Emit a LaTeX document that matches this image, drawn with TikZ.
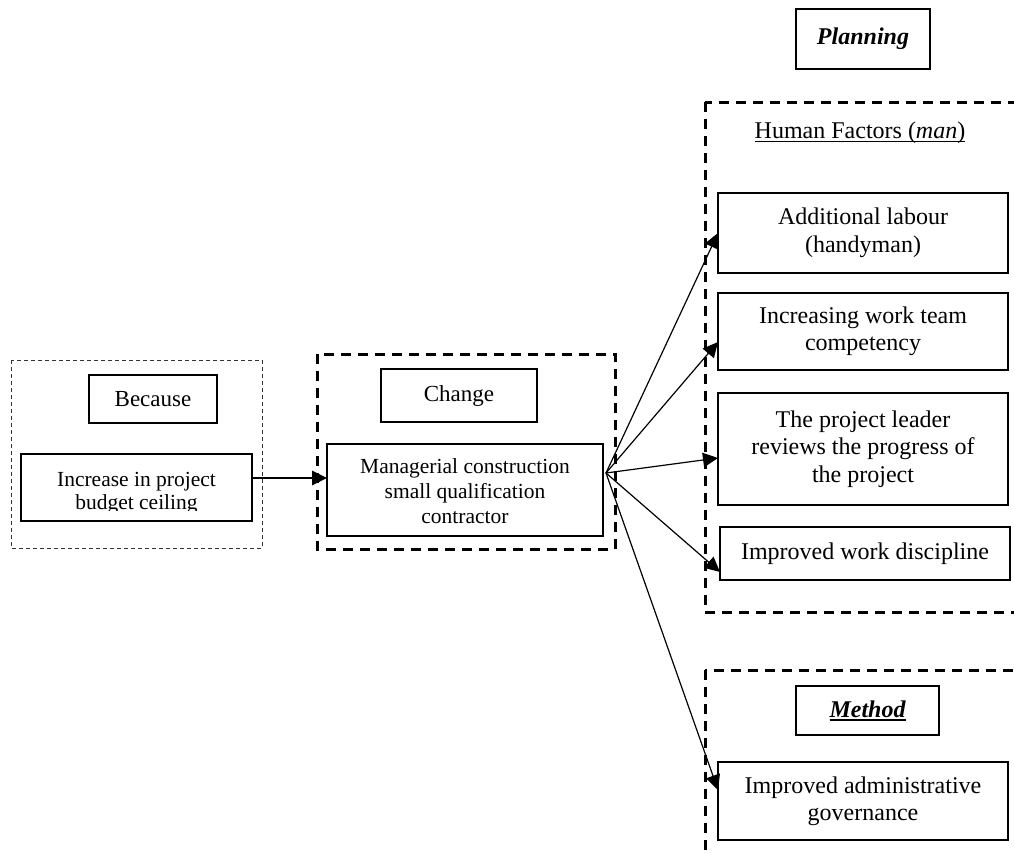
\documentclass[tikz,border=0pt]{standalone}
\usepackage{fontspec}
\setmainfont{Liberation Serif}
\usetikzlibrary{arrows.meta}
\newcommand\fsz[2]{\fontsize{#1}{#2}\selectfont}
% underline with a heavier rule
\newcommand\heavyul[1]{\setbox0\hbox{#1}\rlap{\rule[-3.5pt]{\wd0}{1.7pt}}\box0}
\tikzset{
  box/.style={draw, line width=1.2pt, inner sep=0pt, outer sep=0pt, align=center},
  bigtxt/.style={font=\fsz{24}{27.5}},
  smalltxt/.style={font=\fsz{21.5}{25}},
  grpthick/.style={line width=3pt, dash pattern=on 10pt off 7pt},
  grpthin/.style={line width=1pt, dash pattern=on 4pt off 3pt, black!80},
  arr/.style={line width=1.2pt, -{Triangle[length=15pt,width=14.5pt]}},
}
\begin{document}
\begin{tikzpicture}[x=1pt,y=-1pt]
\useasboundingbox (0,0) rectangle (1014,852);

% group frames
\draw[grpthin] (11,360) rectangle (262,548);
\draw[grpthick] (317,354) rectangle (615,549);
\draw[grpthick] (705,102) rectangle (1040,612);
\draw[grpthick] (705,670) rectangle (1040,880);

% left group
\node[box, font=\fsz{23}{26}, minimum width=128pt, minimum height=48pt] (bec) at (153,399) {Because};
\node[box, minimum width=231pt, minimum height=67pt] (inc) at (136.5,487.5) {};
\begin{scope}
  \clip (22,455) rectangle (251,510);
  \node[align=center, inner sep=0pt, font=\fsz{21.5}{23}] (inctxt) at (136.5,493) {Increase in project\\budget ceiling};
\end{scope}

% middle group
\node[box, font=\fsz{23}{26}, minimum width=156pt, minimum height=53pt] (chg) at (459,395.5) {Change};
\node[box, minimum width=276pt, minimum height=92pt] (m) at (465,490) {};
\node[smalltxt, align=center, inner sep=0pt] (mtxt) at (465,491.5)
  {Managerial construction\\small qualification\\contractor};

% right groups
\node[box, font=\fsz{24}{27.5}\bfseries\itshape, minimum width=134pt, minimum height=60pt] (plan) at (863,39) {Planning};
\node[bigtxt, inner sep=0pt] (hf) at (860,133) {\heavyul{Human Factors (\textit{man})}};
\node[box, bigtxt, minimum width=290pt, minimum height=80pt] (a1) at (863,233) {Additional labour\\(handyman)};
\node[box, bigtxt, minimum width=290pt, minimum height=77pt] (a2) at (863,331.5) {Increasing work team\\competency};
\node[box, bigtxt, minimum width=290pt, minimum height=112pt] (a3) at (863,449) {The project leader\\reviews the progress of\\the project};
\node[box, bigtxt, minimum width=290pt, minimum height=53pt] (a4) at (865,553.5) {Improved work discipline};
\node[box, font=\fsz{24}{27.5}\bfseries\itshape, minimum width=143pt, minimum height=49pt] (mt) at (867.5,710.5) {\heavyul{Method}};
\node[box, bigtxt, minimum width=290pt, minimum height=78pt] (a5) at (863,801) {Improved administrative\\governance};

% connectors
\draw[arr] ([yshift=9.5pt]inc.east) -- ([yshift=9.5pt]inc.east -| m.west);
\coordinate (fan) at ([xshift=3pt,yshift=17pt]m.east);
\draw[arr] (fan) -- (a1.west);
\draw[arr] (fan) -- ([yshift=-10.5pt]a2.west);
\draw[arr] (fan) -- ([yshift=-9pt]a3.west);
\draw[arr] (fan) -- ([yshift=-18.5pt]a4.west);
\draw[arr] (fan) -- ([yshift=11pt]a5.west);
\end{tikzpicture}
\end{document}
